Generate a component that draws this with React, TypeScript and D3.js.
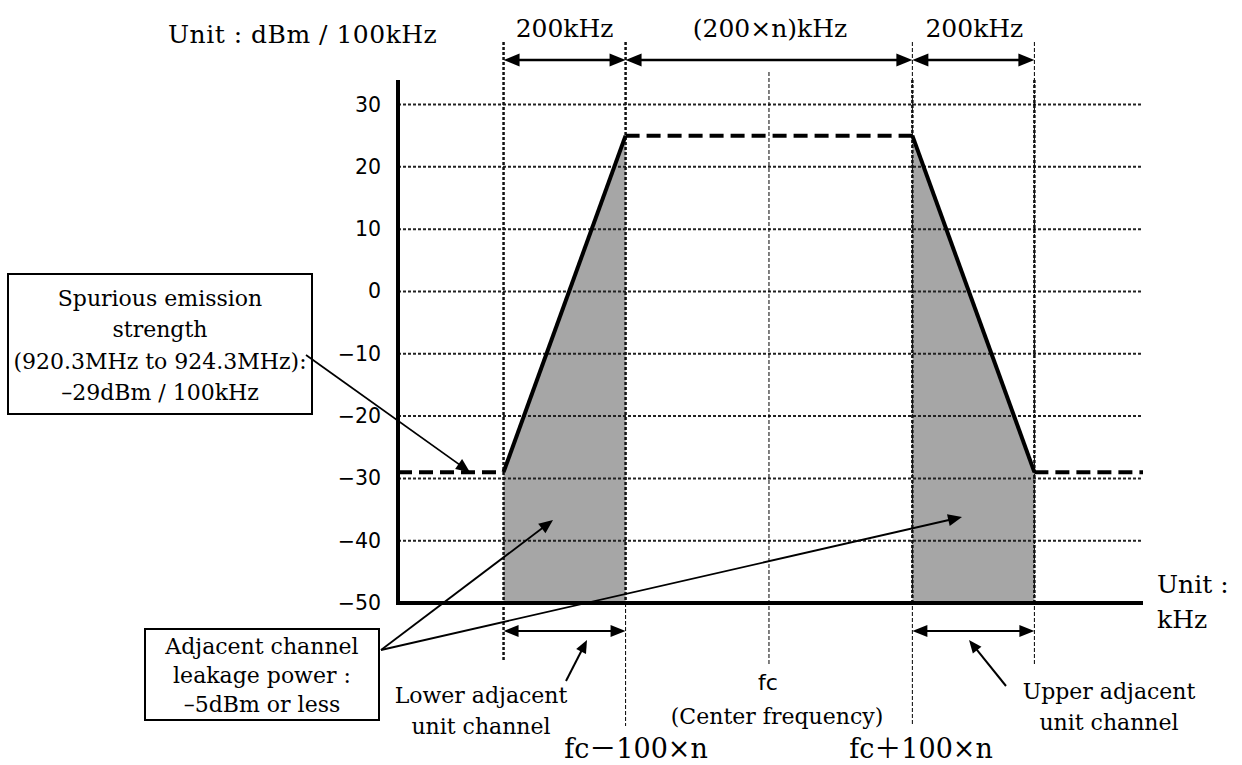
import React from "react";
import * as d3 from "d3";

// ---- data ----
const yTicks = [30, 20, 10, 0, -10, -20, -30, -40, -50];
// schematic frequency offsets from fc (kHz), n ≈ 2.35
const edgeFreqs = [-435, -235, 0, 235, 435];
const maskFreq = [-608, -435, -235, 235, 435, 613];
const maskLevel = [-29, -29, 25, 25, -29, -29];
const maskStyle = ["dashed", "solid", "dashed", "solid", "dashed"];
const adjacentBands: [number, number][] = [[-435, -235], [235, 435]];
const spanLabels = ["200kHz", "(200×n)kHz", "200kHz"];

const W = 1242, H = 765;
const SERIF = "'DejaVu Serif', 'Noto Sans CJK JP', serif";
const SANS = "'DejaVu Sans', sans-serif";
const BODY = 22;

const x = d3.scaleLinear().domain([-608, 613]).range([398, 1143]);
const y = d3.scaleLinear().domain([-50, 30]).range([603, 104.5]);
const levelAt = d3.scaleLinear().domain(maskFreq).range(maskLevel);

function Head({ x1, y1, x2, y2, len = 14, hw = 6 }: any) {
  const dx = x2 - x1, dy = y2 - y1;
  const L = Math.hypot(dx, dy);
  const ux = dx / L, uy = dy / L;
  const bx = x2 - ux * len, by = y2 - uy * len;
  const pts = [
    [x2, y2],
    [bx - uy * hw, by + ux * hw],
    [bx + uy * hw, by - ux * hw],
  ];
  return <polygon points={pts.map((p) => p.join(",")).join(" ")} fill="#000" />;
}

function Arrow({ x1, y1, x2, y2, w = 1.8, len = 14, hw = 6, both = false }: any) {
  const dx = x2 - x1, dy = y2 - y1;
  const L = Math.hypot(dx, dy);
  const ux = dx / L, uy = dy / L;
  const sx = both ? x1 + ux * len * 0.8 : x1;
  const sy = both ? y1 + uy * len * 0.8 : y1;
  return (
    <g>
      <line x1={sx} y1={sy} x2={x2 - ux * len * 0.8} y2={y2 - uy * len * 0.8} stroke="#000" strokeWidth={w} />
      <Head x1={x1} y1={y1} x2={x2} y2={y2} len={len} hw={hw} />
      {both && <Head x1={x2} y1={y2} x2={x1} y2={y1} len={len} hw={hw} />}
    </g>
  );
}

export default function App() {
  const [e1, e2, ec, e3, e4] = edgeFreqs.map((f) => x(f));
  const heavy = { stroke: "#111", strokeWidth: 2.5, strokeDasharray: "3 2" };
  const thin = { stroke: "#000", strokeWidth: 1, strokeDasharray: "4 2" };
  const grid = { stroke: "#222", strokeWidth: 2, strokeDasharray: "3 2" };
  const topEdges = [e1, e2, e3, e4];

  return (
    <svg width={W} height={H} style={{ position: "absolute", left: 0, top: 0, background: "#fff" }}>
      {/* grey adjacent-channel areas */}
      {adjacentBands.map(([a, b], i) => (
        <polygon
          key={i}
          points={[
            [x(a), y(-50)],
            [x(a), y(levelAt(a))],
            [x(b), y(levelAt(b))],
            [x(b), y(-50)],
          ].map((p) => p.join(",")).join(" ")}
          fill="#a6a6a6"
        />
      ))}

      {/* horizontal grid lines */}
      {yTicks.filter((t) => t > -50).map((t) => (
        <line key={t} x1={x(-608)} x2={x(613)} y1={y(t)} y2={y(t)} {...grid} />
      ))}

      {/* vertical lines */}
      <line x1={ec} x2={ec} y1={72} y2={665} {...thin} />
      <line x1={e1} x2={e1} y1={42} y2={662} {...heavy} />
      <line x1={e2} x2={e2} y1={42} y2={603} {...heavy} />
      <line x1={e2} x2={e2} y1={603} y2={726} {...thin} />
      <line x1={e3} x2={e3} y1={42} y2={726} {...thin} />
      <line x1={e4} x2={e4} y1={42} y2={664} {...thin} />
      <line x1={e3} x2={e3} y1={80} y2={603} {...heavy} />
      <line x1={e4} x2={e4} y1={80} y2={603} {...heavy} />

      {/* mask line */}
      {maskStyle.map((s, i) => (
        <line
          key={i}
          x1={x(maskFreq[i])}
          y1={y(maskLevel[i])}
          x2={x(maskFreq[i + 1])}
          y2={y(maskLevel[i + 1])}
          stroke="#000"
          strokeWidth={4}
          strokeDasharray={s === "dashed" ? "14 7" : undefined}
          strokeLinecap="butt"
        />
      ))}

      {/* axes */}
      <line x1={398} x2={398} y1={80} y2={605} stroke="#000" strokeWidth={4} />
      <line x1={396} x2={x(613)} y1={603} y2={603} stroke="#000" strokeWidth={4} />

      {/* y tick labels */}
      {yTicks.map((t) => (
        <text key={t} x={381} y={y(t)} textAnchor="end" dominantBaseline="central" fontFamily={SANS} fontSize={20.5}>
          {t < 0 ? "\u2212" + Math.abs(t) : String(t)}
        </text>
      ))}

      {/* top span arrows */}
      {spanLabels.map((lab, i) => (
        <g key={i}>
          <Arrow x1={topEdges[i]} y1={60} x2={topEdges[i + 1]} y2={60} w={2.5} len={16} hw={6.5} both />
          <text x={(topEdges[i] + topEdges[i + 1]) / 2 + (i === 0 ? 0 : 1)} y={28} textAnchor="middle" dominantBaseline="central" fontFamily={SERIF} fontSize={25}>
            {lab}
          </text>
        </g>
      ))}

      <text x={168} y={34} dominantBaseline="central" fontFamily={SERIF} fontSize={25} letterSpacing={0.5}>
        Unit : dBm / 100kHz
      </text>

      {/* bottom channel arrows */}
      <Arrow x1={e1} y1={631} x2={e2} y2={631} w={2} len={15} hw={6} both />
      <Arrow x1={e3} y1={631} x2={e4} y2={631} w={2} len={15} hw={6} both />
      <Arrow x1={566} y1={681} x2={587} y2={640} w={2} len={13} hw={5.5} />
      <Arrow x1={1006} y1={686} x2={969} y2={640} w={2} len={13} hw={5.5} />

      {/* x-axis unit */}
      <text x={1157} y={584} dominantBaseline="central" fontFamily={SERIF} fontSize={25}>Unit :</text>
      <text x={1157} y={619} dominantBaseline="central" fontFamily={SERIF} fontSize={25}>kHz</text>

      {/* bottom labels */}
      <text x={481} y={695} textAnchor="middle" dominantBaseline="central" fontFamily={SERIF} fontSize={BODY}>Lower adjacent</text>
      <text x={481} y={726} textAnchor="middle" dominantBaseline="central" fontFamily={SERIF} fontSize={BODY}>unit channel</text>
      <text x={1109} y={691} textAnchor="middle" dominantBaseline="central" fontFamily={SERIF} fontSize={BODY}>Upper adjacent</text>
      <text x={1109} y={722} textAnchor="middle" dominantBaseline="central" fontFamily={SERIF} fontSize={BODY}>unit channel</text>
      <text x={768} y={682} textAnchor="middle" dominantBaseline="central" fontFamily={SANS} fontSize={22}>fc</text>
      <text x={777} y={716} textAnchor="middle" dominantBaseline="central" fontFamily={SERIF} fontSize={BODY}>(Center frequency)</text>
      <text x={636} y={748} textAnchor="middle" dominantBaseline="central" fontFamily={SERIF} fontSize={27}>fc－100×n</text>
      <text x={921} y={748} textAnchor="middle" dominantBaseline="central" fontFamily={SERIF} fontSize={27}>fc＋100×n</text>

      {/* spurious box */}
      <rect x={8} y={274} width={304} height={140} fill="#fff" stroke="#000" strokeWidth={2} />
      {["Spurious emission", "strength", "(920.3MHz to 924.3MHz):", "\u201329dBm / 100kHz"].map((s, i) => (
        <text key={i} x={160} y={298.5 + i * 31.3} textAnchor="middle" dominantBaseline="central" fontFamily={SERIF} fontSize={BODY}>
          {s}
        </text>
      ))}
      <Arrow x1={306} y1={355} x2={470} y2={y(-29)} w={1.8} len={14} hw={6} />

      {/* adjacent leakage box */}
      <rect x={145} y={629} width={234} height={91} fill="#fff" stroke="#000" strokeWidth={2} />
      {["Adjacent channel", "leakage power :", "\u20135dBm or less"].map((s, i) => (
        <text key={i} x={262} y={646.5 + i * 29} textAnchor="middle" dominantBaseline="central" fontFamily={SERIF} fontSize={BODY}>
          {s}
        </text>
      ))}
      <Arrow x1={381} y1={650} x2={553} y2={520} w={1.8} len={14} hw={6} />
      <Arrow x1={381} y1={650} x2={962} y2={517} w={1.8} len={14} hw={6} />
    </svg>
  );
}
